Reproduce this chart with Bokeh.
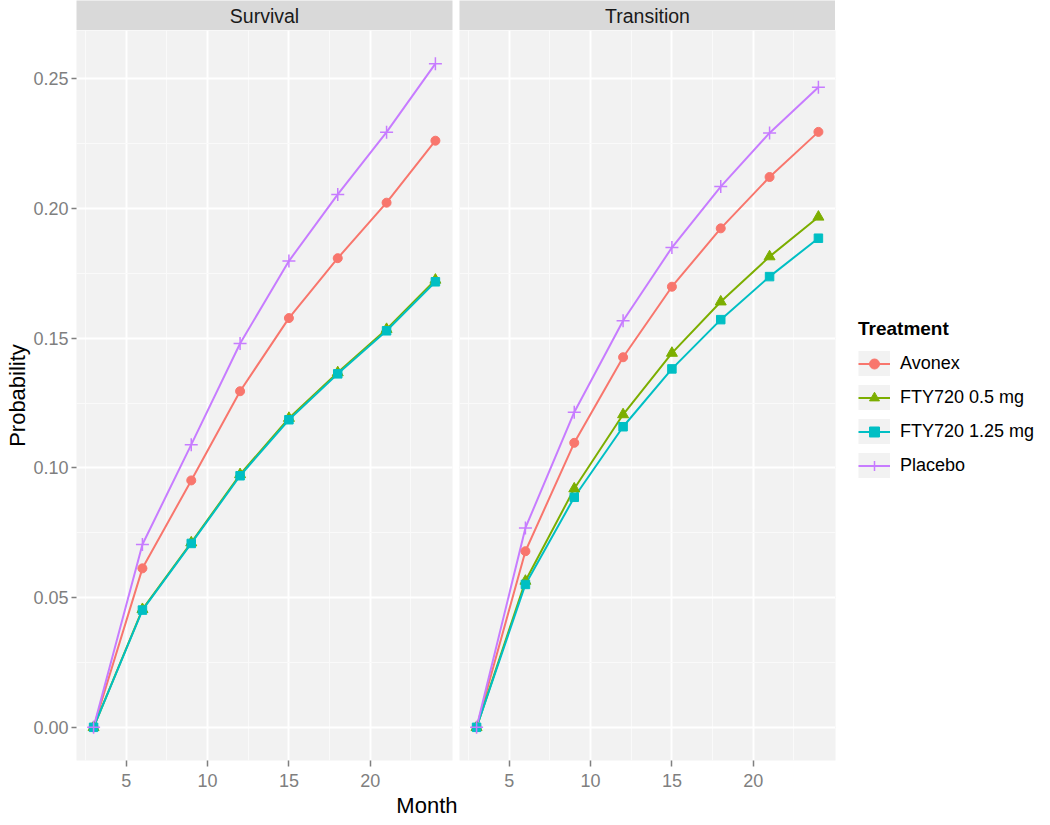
from bokeh.plotting import figure
from bokeh.models import (Range1d, FixedTicker, PrintfTickFormatter, Grid,
                          Legend, LegendItem, Title, ColumnDataSource)
from bokeh.layouts import row, column
from bokeh.core.properties import value
from bokeh.embed import file_html
from bokeh.resources import INLINE

# ---------------- data ----------------
months = [3, 6, 9, 12, 15, 18, 21, 24]
treatments = ["Avonex", "FTY720 0.5 mg", "FTY720 1.25 mg", "Placebo"]
panels = ["Survival", "Transition"]

surv_avonex = [0.0, 0.0613, 0.0952, 0.1296, 0.1578, 0.1809, 0.2023, 0.2262]
surv_fty05 = [0.0, 0.0455, 0.0712, 0.0975, 0.1192, 0.1368, 0.1535, 0.1725]
surv_fty125 = [0.0, 0.0452, 0.0709, 0.0970, 0.1186, 0.1363, 0.1529, 0.1718]
surv_placebo = [0.0, 0.0705, 0.1090, 0.1480, 0.1798, 0.2055, 0.2295, 0.2559]

trans_avonex = [0.0, 0.0679, 0.1097, 0.1427, 0.1699, 0.1924, 0.2122, 0.2296]
trans_fty05 = [0.0, 0.0564, 0.0920, 0.1206, 0.1443, 0.1641, 0.1815, 0.1968]
trans_fty125 = [0.0, 0.0551, 0.0887, 0.1159, 0.1382, 0.1572, 0.1738, 0.1886]
trans_placebo = [0.0, 0.0769, 0.1215, 0.1568, 0.1850, 0.2085, 0.2292, 0.2468]

x_major_ticks = [5, 10, 15, 20]
x_minor_ticks = [2.5, 7.5, 12.5, 17.5, 22.5]
y_major_ticks = [0.0, 0.05, 0.10, 0.15, 0.20, 0.25]
y_minor_ticks = [0.025, 0.075, 0.125, 0.175, 0.225]

# ---------------- style ----------------
COLORS = ["#F8766D", "#7CAE00", "#00BFC4", "#C77CFF"]
MARKERS = ["circle", "triangle", "square", "cross"]
MSIZES = [9, 11, 8.5, 13]
PANEL_BG = "#F2F2F2"
STRIP_BG = "#D9D9D9"
FONT = "Liberation Sans"
TICK_COLOR = "#7F7F7F"

STRIP_PX = 30
FRAME_W = 376
FRAME_H = 730
LEFT_B = 76
GAP = 7
LEG_B = 200

series = {
    "Survival": [surv_avonex, surv_fty05, surv_fty125, surv_placebo],
    "Transition": [trans_avonex, trans_fty05, trans_fty125, trans_placebo],
}

# ranges (ggplot-like 5% expansion)
xmin, xmax = min(months), max(months)
xpad = 0.05 * (xmax - xmin)
all_y = [v for lst in series.values() for s in lst for v in s]
ymin, ymax = min(all_y), max(all_y)
ypad = 0.05 * (ymax - ymin)
x_range = Range1d(xmin - xpad, xmax + xpad)
y_range = Range1d(ymin - ypad, ymax + ypad)


def make_strip(name, first):
    s = figure(frame_width=FRAME_W, frame_height=STRIP_PX, x_range=(0, 1), y_range=(0, 1),
               x_axis_location=None, y_axis_location=None,
               output_backend="svg", toolbar_location=None,
               background_fill_color=STRIP_BG, border_fill_color="white",
               outline_line_color=None, min_border_top=0, min_border_bottom=0,
               min_border_left=LEFT_B if first else 0,
               min_border_right=GAP if first else 0)
    s.grid.visible = False
    s.text(x=[0.5], y=[0.5], text=[name], text_align="center", text_baseline="middle",
           text_color="#1A1A1A", text_font=value(FONT), text_font_size="19.5px")
    return s


def make_panel(name, first):
    kw = dict(frame_width=FRAME_W, frame_height=FRAME_H, x_range=x_range, y_range=y_range,
              output_backend="svg", toolbar_location=None,
              background_fill_color=PANEL_BG, border_fill_color="white",
              outline_line_color=None, min_border_top=0, min_border_bottom=0)
    if first:
        p = figure(min_border_left=LEFT_B, min_border_right=GAP, **kw)
    else:
        p = figure(y_axis_location=None, min_border_left=0, min_border_right=LEG_B, **kw)

    xt = FixedTicker(ticks=x_major_ticks, minor_ticks=x_minor_ticks)
    yt = FixedTicker(ticks=y_major_ticks, minor_ticks=y_minor_ticks)
    p.xaxis.ticker = xt
    p.xgrid.ticker = xt
    if first:
        p.yaxis.ticker = yt
        p.ygrid.ticker = yt
        ygrid = list(p.ygrid)
    else:
        g = Grid(dimension=1, ticker=yt)
        p.add_layout(g)
        ygrid = [g]
    for g in list(p.xgrid) + ygrid:
        g.grid_line_color = "white"
        g.grid_line_width = 2
        g.minor_grid_line_color = "#FAFAFA"
        g.minor_grid_line_width = 1

    axes = list(p.xaxis) + (list(p.yaxis) if first else [])
    for ax in axes:
        ax.axis_line_color = None
        ax.major_tick_line_color = TICK_COLOR
        ax.major_tick_line_width = 1.5
        ax.major_tick_out = 5
        ax.major_tick_in = 0
        ax.minor_tick_out = 0
        ax.minor_tick_in = 0
        ax.major_label_text_font = FONT
        ax.major_label_text_font_size = "18px"
        ax.major_label_text_color = TICK_COLOR
        ax.major_label_standoff = 3
    p.xaxis.major_tick_out = 6
    p.xaxis.major_label_standoff = 7
    if first:
        p.yaxis.formatter = PrintfTickFormatter(format="%.2f")
        p.yaxis.axis_label = "Probability"
        p.yaxis.axis_label_text_font = FONT
        p.yaxis.axis_label_text_font_size = "22px"
        p.yaxis.axis_label_text_font_style = "normal"
        p.yaxis.axis_label_text_color = "black"
        p.yaxis.axis_label_standoff = 0

    src = [ColumnDataSource(dict(month=months, prob=s)) for s in series[name]]
    key_src = ColumnDataSource(dict(month=[float("nan")], prob=[float("nan")]))
    line_r, pt_r, bg_r = [], [], []
    for i, s in enumerate(src):
        # legend key background (draws nothing in the panel)
        bg_r.append(p.line(x="month", y="prob", source=key_src, line_color=PANEL_BG,
                           line_width=32))
        line_r.append(p.line(x="month", y="prob", source=s, line_color=COLORS[i], line_width=2))
    for i, s in enumerate(src):
        if MARKERS[i] == "cross":
            pt_r.append(p.scatter(x="month", y="prob", source=s, marker="cross", size=MSIZES[i],
                                  line_color=COLORS[i], line_width=1.5))
        else:
            pt_r.append(p.scatter(x="month", y="prob", source=s, marker=MARKERS[i], size=MSIZES[i],
                                  fill_color=COLORS[i], line_color=COLORS[i]))
    return p, bg_r, line_r, pt_r


s1 = make_strip("Survival", True)
s2 = make_strip("Transition", False)
p1, _, _, _ = make_panel("Survival", True)
p2, bg_r, line_r, pt_r = make_panel("Transition", False)

month_title = Title(text="Month", align="right", offset=-5, standoff=2,
                    text_font=FONT, text_font_size="22px", text_font_style="normal",
                    text_color="black")
p1.add_layout(month_title, "below")

# legend in the right side panel, vertically centred on the data panel
ROW_H = 25
ROW_SP = 9
TITLE_SO = 11
LEG_H = 6 + 22 + TITLE_SO + 4 * ROW_H + 3 * ROW_SP + 6
items = [LegendItem(label=t, renderers=[bg_r[i], line_r[i], pt_r[i]])
         for i, t in enumerate(treatments)]
legend = Legend(items=items, location=(23, int(FRAME_H / 2 - LEG_H / 2 + 3)),
                title="Treatment",
                title_text_font=FONT, title_text_font_size="19px", title_text_font_style="bold",
                title_text_color="black", title_standoff=TITLE_SO,
                label_text_font=FONT, label_text_font_size="18px", label_text_color="black",
                glyph_width=32, glyph_height=ROW_H, spacing=ROW_SP, label_standoff=10,
                padding=6, margin=0, border_line_color=None, background_fill_alpha=0)
p2.add_layout(legend, "right")

layout = column(row(s1, s2), row(p1, p2))
open("out.html", "w").write(file_html(layout, INLINE))
